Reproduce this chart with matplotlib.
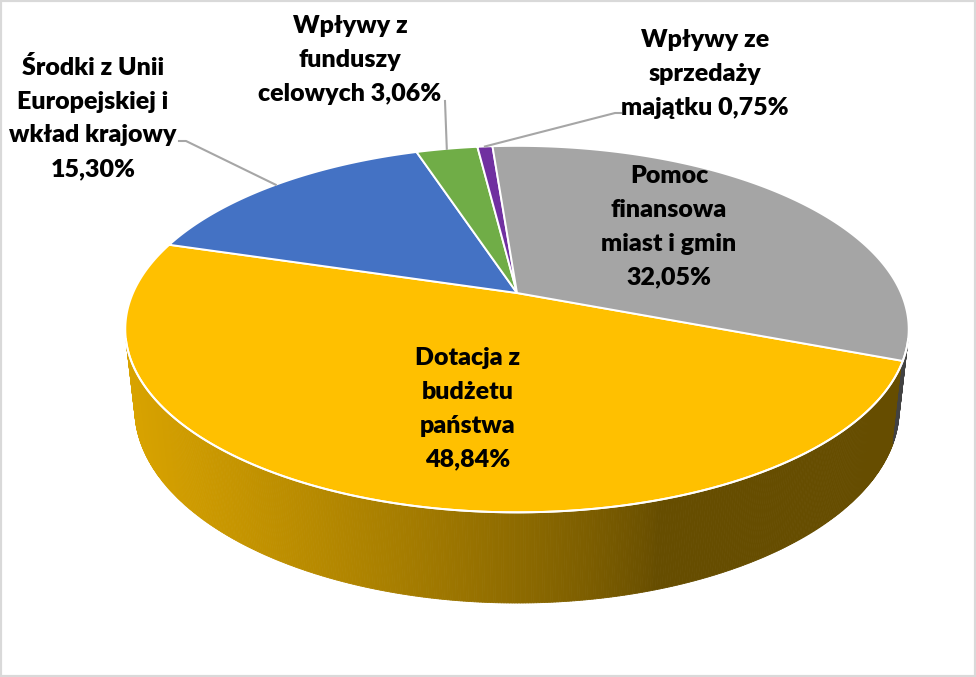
import numpy as np
import matplotlib.pyplot as plt
from matplotlib.collections import PolyCollection
from matplotlib.patches import Polygon, Rectangle

# dane
names = ["Dotacja z\nbudżetu\npaństwa",
         "Środki z Unii\nEuropejskiej i\nwkład krajowy",
         "Wpływy z\nfunduszy\ncelowych",
         "Wpływy ze\nsprzedaży\nmajątku",
         "Pomoc\nfinansowa\nmiast i gmin"]
shares = [48.84, 15.30, 3.06, 0.75, 32.05]
pct_sep = ["\n", "\n", " ", " ", "\n"]
colors = ["#FFC000", "#4472C4", "#70AD47", "#7030A0", "#A5A5A5"]

# ===== rzut perspektywiczny =====
CX, CY = 517, 293
PHI = np.radians(27.3)
DIST = 4.51
FOC = 1732
DEPTH = 0.235
START = -21.0


def proj(theta_deg, z=0.0):
    t = np.radians(theta_deg)
    X, Y = np.cos(t), np.sin(t)
    d = DIST + Y * np.cos(PHI) - z * np.sin(PHI)
    sx = CX + FOC * X / d
    sy = CY - FOC * (Y * np.sin(PHI) + z * np.cos(PHI)) / d
    return sx, sy


def shade(x):
    t = np.clip((660 - x) / 535, 0, 1)
    return 0.40 + 0.45 * t ** 0.8


fig = plt.figure(figsize=(9.76, 6.77), dpi=100)
ax = fig.add_axes([0, 0, 1, 1])
ax.set_xlim(0, 976)
ax.set_ylim(677, 0)
ax.axis("off")

# kąty wycinków (zgodnie z ruchem wskazówek zegara)
bounds = START - np.concatenate([[0], np.cumsum(shares)]) * 3.6
s0 = np.degrees(np.arcsin(1 / (DIST * np.cos(PHI))))
vis = (-180 + s0, -s0)

# ===== ŚCIANA BOCZNA =====
polys, fcols = [], []
for i, c in enumerate(colors):
    a_hi, a_lo = bounds[i], bounds[i + 1]
    rgb = np.array(plt.matplotlib.colors.to_rgb(c))
    for k in range(-2, 3):
        lo = max(a_lo, vis[0] + 360 * k)
        hi = min(a_hi, vis[1] + 360 * k)
        if hi <= lo:
            continue
        ts = np.linspace(lo, hi, max(3, int((hi - lo) * 3)))
        for t0, t1 in zip(ts[:-1], ts[1:]):
            p = [proj(t0), proj(t1), proj(t1, -DEPTH), proj(t0, -DEPTH)]
            polys.append(p)
            xm = proj((t0 + t1) / 2)[0]
            fcols.append(rgb * shade(xm))
ax.add_collection(PolyCollection(polys, facecolors=fcols, edgecolors=fcols,
                                 linewidths=0.6))

# ===== GÓRNA POWIERZCHNIA =====
for i, c in enumerate(colors):
    a_hi, a_lo = bounds[i], bounds[i + 1]
    ts = np.linspace(a_hi, a_lo, 200)
    pts = [(CX, CY)] + [proj(t) for t in ts]
    ax.add_patch(Polygon(pts, closed=True, facecolor=c, edgecolor="white",
                         linewidth=1.4, joinstyle="round"))

# biała krawędź przednia
ts = np.linspace(vis[0], vis[1], 300)
ax.plot(*zip(*[proj(t) for t in ts]), color="white", linewidth=1.4)

# ===== ETYKIETY =====
lab_pos = [(468, 409), (93, 118), (350, 60), (705, 74), (669, 227)]
lead = [None,
        [(179, 141), (186, 141)],
        [(445, 101)],
        [(621, 113), (615, 113)],
        None]
for i, name in enumerate(names):
    txt = name + pct_sep[i] + f"{shares[i]:.2f}".replace(".", ",") + "%"
    ax.text(*lab_pos[i], txt, ha="center", va="center", fontsize=18,
            fontweight="heavy", linespacing=1.65, color="black",
            family=["Lato", "DejaVu Sans"])
    if lead[i] is not None:
        mid = (bounds[i] + bounds[i + 1]) / 2
        pts = lead[i] + [proj(mid)]
        ax.plot(*zip(*pts), color="#A6A6A6", linewidth=1.5)

fig.patches.append(Rectangle((0, 0), 1, 1, transform=fig.transFigure,
                             fill=False, edgecolor="#D9D9D9", linewidth=3))

plt.savefig("out.png", dpi=100)
print("out.png")
